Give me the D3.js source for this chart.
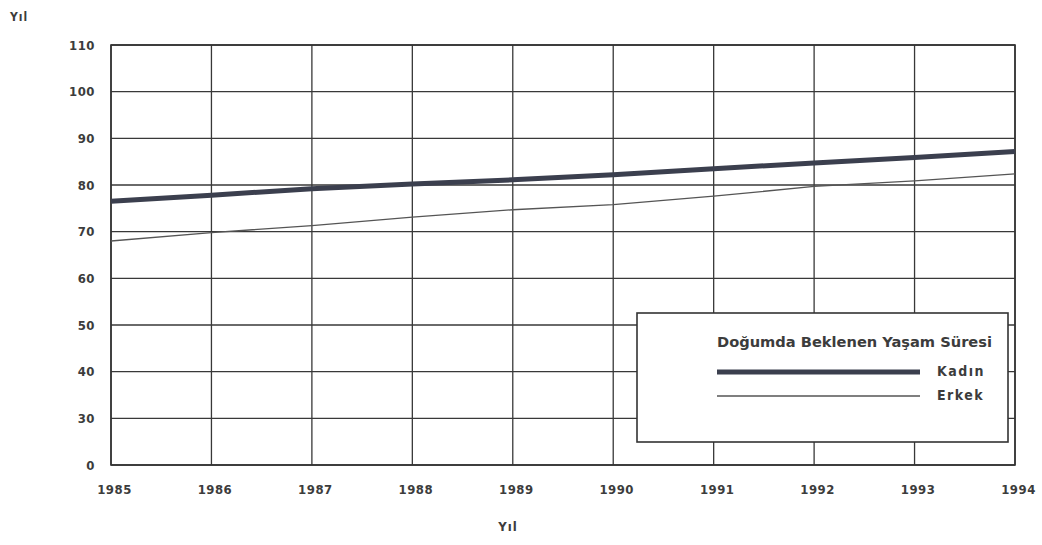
<!DOCTYPE html>
<html><head><meta charset="utf-8">
<script src="https://cdn.jsdelivr.net/npm/d3@7"></script>
<style>
body{margin:0;background:#fff;}
text{font-family:"DejaVu Sans Condensed","Liberation Sans Narrow",sans-serif;font-weight:bold;fill:#3c3c3c;}
</style></head><body>
<svg id="c" width="1042" height="545"></svg>
<script>
const years = [1985,1986,1987,1988,1989,1990,1991,1992,1993,1994];
const kadin = [76.5,77.8,79.2,80.2,81.1,82.2,83.5,84.7,85.9,87.2];
const erkek = [68.0,69.8,71.3,73.1,74.7,75.8,77.6,79.7,80.9,82.4];
const yTickValues = [20,30,40,50,60,70,80,90,100,110];
const yTickLabels = ["0","30","40","50","60","70","80","90","100","110"];
const xTickLabels = ["1985","1986","1987","1988","1989","1990","1991","1992","1993","1994"];
const legendTitle = "Doğumda Beklenen Yaşam Süresi";
const seriesNames = ["Kadın","Erkek"];

const svg = d3.select("#c");
const L=111, R=1015, T=45, B=465;
const x = d3.scaleLinear().domain([1985,1994]).range([L,R]);
const y = d3.scaleLinear().domain([20,110]).range([B,T]);

// grid
const g = svg.append("g");
g.selectAll("line.h").data(yTickValues).enter().append("line")
 .attr("x1",L).attr("x2",R).attr("y1",d=>y(d)).attr("y2",d=>y(d))
 .attr("stroke","#383838").attr("stroke-width",1.3);
g.selectAll("line.v").data(years).enter().append("line")
 .attr("y1",T).attr("y2",B).attr("x1",d=>x(d)).attr("x2",d=>x(d))
 .attr("stroke","#383838").attr("stroke-width",1.3);
g.append("rect").attr("x",L).attr("y",T).attr("width",R-L).attr("height",B-T)
 .attr("fill","none").attr("stroke","#333").attr("stroke-width",1.6);

// y labels
const yAxis = d3.axisLeft(y).tickValues(yTickValues)
 .tickFormat((d,i)=>yTickLabels[i]).tickSize(0).tickPadding(16);
const ya = svg.append("g").attr("transform",`translate(${L},0)`).call(yAxis);
ya.select(".domain").remove();
ya.selectAll("text").style("font-size","13px").attr("letter-spacing","0.5px")
 .attr("font-family",null);

// x labels
const xAxis = d3.axisBottom(x).tickValues(years)
 .tickFormat((d,i)=>xTickLabels[i]).tickSize(0).tickPadding(20);
const xa = svg.append("g").attr("transform",`translate(0,${B})`).call(xAxis);
xa.select(".domain").remove();
xa.selectAll("text").style("font-size","13px").attr("letter-spacing","0.5px")
 .attr("dx","3px").attr("font-family",null);

// lines
const line = d3.line().x((d,i)=>x(years[i])).y(d=>y(d));
svg.append("path").datum(erkek).attr("d",line).attr("fill","none")
 .attr("stroke","#555").attr("stroke-width",1.3);
svg.append("path").datum(kadin).attr("d",line).attr("fill","none")
 .attr("stroke","#3b3f4e").attr("stroke-width",5);

// axis titles
svg.append("text").attr("x",10).attr("y",21).style("font-size","12px").attr("letter-spacing","1px").text("Yıl");
svg.append("text").attr("x",508).attr("y",531).attr("text-anchor","middle").style("font-size","13px").attr("letter-spacing","1px").text("Yıl");

// legend
const lg = svg.append("g");
lg.append("rect").attr("x",637).attr("y",313).attr("width",371).attr("height",129)
 .attr("fill","#fff").attr("stroke","#333").attr("stroke-width",1.6);
lg.append("text").attr("x",717).attr("y",347).style("font-size","14px")
 .attr("textLength",275).attr("lengthAdjust","spacingAndGlyphs").text(legendTitle);
lg.append("line").attr("x1",717).attr("x2",920).attr("y1",372).attr("y2",372)
 .attr("stroke","#3b3f4e").attr("stroke-width",5);
lg.append("line").attr("x1",717).attr("x2",920).attr("y1",396).attr("y2",396)
 .attr("stroke","#555").attr("stroke-width",1.3);
lg.append("text").attr("x",937).attr("y",376).style("font-size","14px").attr("letter-spacing","1.5px").text(seriesNames[0]);
lg.append("text").attr("x",937).attr("y",400).style("font-size","14px").attr("letter-spacing","1.5px").text(seriesNames[1]);
</script>
</body></html>
